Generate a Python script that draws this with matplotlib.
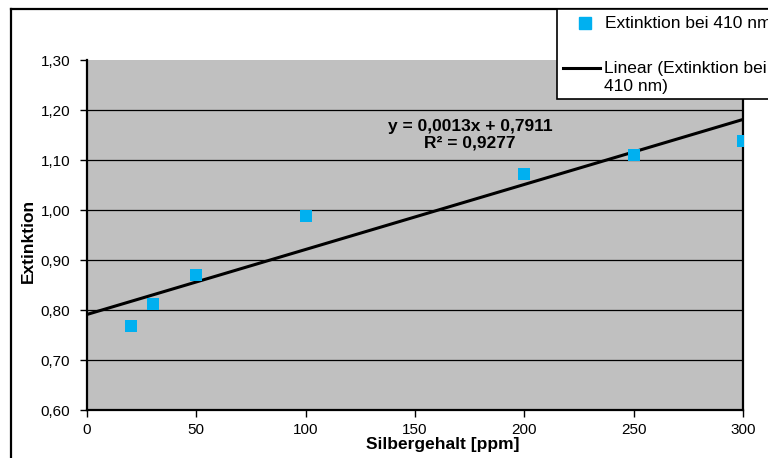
import matplotlib
matplotlib.use('Agg')
import matplotlib.pyplot as plt
from matplotlib.patches import Rectangle
from matplotlib.lines import Line2D
from matplotlib.ticker import FuncFormatter
import numpy as np

plt.rcParams['font.family'] = ['Liberation Sans', 'DejaVu Sans']

# Messwerte
silber_ppm = [20, 30, 50, 100, 200, 250, 300]
extinktion = [0.768, 0.812, 0.870, 0.988, 1.072, 1.110, 1.138]

# Trendlinie laut Excel-Ausgabe
steigung = 0.0013
achsenabschnitt = 0.7911
r_quadrat = 0.9277


def komma(v, stellen):
    return ('%.*f' % (stellen, v)).replace('.', ',')


fig = plt.figure(figsize=(7.68, 4.58), dpi=100)
W, H = 768, 458


def fx(px):
    return px / W


def fy(py):
    return 1 - py / H


# Rahmen um das ganze Diagramm
fig.add_artist(Line2D([fx(11), fx(11)], [fy(9), 0], color='black', lw=1.6,
                      transform=fig.transFigure))
fig.add_artist(Line2D([fx(11), 1], [fy(9), fy(9)], color='black', lw=1.6,
                      transform=fig.transFigure))

ax = fig.add_axes([fx(87), fy(410), fx(743) - fx(87), fy(60) - fy(410)])
ax.set_facecolor('#C0C0C0')
ax.set_xlim(0, 300)
ax.set_ylim(0.60, 1.30)
ax.set_xticks(np.arange(0, 301, 50))
ax.set_yticks(np.arange(0.60, 1.301, 0.10))
ax.yaxis.set_major_formatter(FuncFormatter(lambda v, p: komma(v, 2)))

for y in np.arange(0.70, 1.21, 0.10):
    ax.axhline(y, color='black', lw=0.9, zorder=1)

xs = np.array([0, 300])
ax.plot(xs, steigung * xs + achsenabschnitt, color='black', lw=2.2, zorder=2)
ax.scatter(silber_ppm, extinktion, marker='s', s=64, color='#00B0F0',
           linewidths=0, zorder=3)

for side in ['left', 'bottom', 'right']:
    ax.spines[side].set_linewidth(1.6)
ax.spines['top'].set_visible(False)
ax.tick_params(direction='out', length=5, width=1, labelsize=11)
ax.tick_params(axis='y', pad=7)
ax.tick_params(axis='x', pad=4)

ax.set_xlabel('Silbergehalt [ppm]', fontsize=12.5, fontweight='bold')
ax.xaxis.set_label_coords((443 - 87) / 656, (410 - 444) / 350)
ax.set_ylabel('Extinktion', fontsize=12.5, fontweight='bold')
ax.yaxis.set_label_coords((28 - 87) / 656, (410 - 241) / 350)
ax.xaxis.label.set_va('center')
ax.yaxis.label.set_va('center')

fig.text(fx(470), fy(127), 'y = %sx + %s' % (komma(steigung, 4), komma(achsenabschnitt, 4)),
         fontsize=12.5, fontweight='bold', ha='center', va='center')
fig.text(fx(470), fy(143), 'R² = %s' % komma(r_quadrat, 4),
         fontsize=12.5, fontweight='bold', ha='center', va='center')

# Legende (ragt über den rechten Rand hinaus)
fig.add_artist(Rectangle((fx(557), fy(99)), fx(260), fy(9) - fy(99),
                         transform=fig.transFigure, facecolor='white',
                         edgecolor='black', lw=1.2, zorder=5))
fig.add_artist(Line2D([fx(585)], [fy(23)], marker='s', markersize=8,
                      color='#00B0F0', lw=0, transform=fig.transFigure, zorder=6))
fig.text(fx(605), fy(23), 'Extinktion bei 410 nm', fontsize=12.5, va='center', zorder=6)
fig.add_artist(Line2D([fx(563), fx(600)], [fy(68), fy(68)], color='black', lw=2.2,
                      transform=fig.transFigure, zorder=6))
fig.text(fx(604), fy(68), 'Linear (Extinktion bei', fontsize=12.5, va='center', zorder=6)
fig.text(fx(604), fy(87), '410 nm)', fontsize=12.5, va='center', zorder=6)

fig.savefig('out.png', dpi=100)
